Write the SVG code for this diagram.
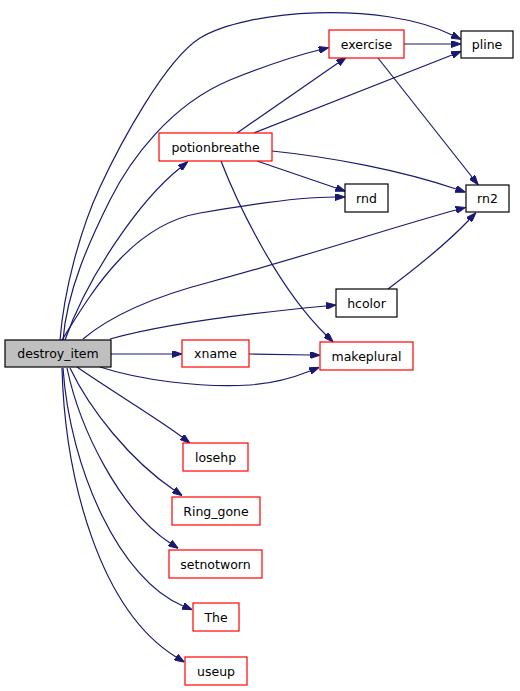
<svg xmlns="http://www.w3.org/2000/svg" width="520" height="691" viewBox="0 0 520 691">
<style>
.n rect{fill:#fff;stroke-width:1.2}
.r rect{stroke:#ff0000}
.k rect{stroke:#000}
.n text{font-family:"DejaVu Sans",sans-serif;font-size:12.5px;text-anchor:middle;fill:#000}
.e path{fill:none;stroke:#191970;stroke-width:1.2;marker-end:url(#a)}
</style>
<defs>
<marker id="a" viewBox="0 0 10 7" refX="0" refY="3.5" markerWidth="10" markerHeight="7" markerUnits="userSpaceOnUse" orient="auto">
<path d="M0,0 L10,3.5 L0,7 z" fill="#191970" stroke="#191970" stroke-width="1"/>
</marker>
</defs>
<rect width="520" height="691" fill="#fff"/>
<g class="e" id="edges">
<path d="M60,340 C64,290 80,230 100,187 C120,144 165,60 200,38 C245,10 380,0 452,35"/>
<path d="M63,340 C67,290 90,240 110,200 C130,160 170,105 230,80 C260,68 290,57 319,50"/>
<path d="M65,340 C88,275 140,200 180,168"/>
<path d="M62,340 C90,295 130,225 200,213 C240,206 300,197 335,197"/>
<path d="M83,339 C115,312 160,295 210,282 C300,258 400,225 456,210"/>
<path d="M110,339 C160,325 230,315 326,306"/>
<path d="M111,354 L172,354"/>
<path d="M100,367 C140,380 200,388 250,385 C280,383 300,375 310,371"/>
<path d="M77,367 C110,390 160,420 182,437"/>
<path d="M70,368 C90,410 130,460 174,490"/>
<path d="M67,368 C80,430 120,510 170,543"/>
<path d="M63,368 C70,470 120,580 183,606"/>
<path d="M62,368 C65,480 100,610 176,657"/>
<path d="M237,133 L338,63"/>
<path d="M254,133 L452,55"/>
<path d="M404,44 L451,44"/>
<path d="M378,58 L472,177"/>
<path d="M272,151 C330,157 400,170 456,189"/>
<path d="M257,161 L336,188"/>
<path d="M221,161 C240,210 280,290 326,335"/>
<path d="M388,289 C420,265 450,240 469,220"/>
<path d="M249,354 L310,355"/>
</g>
<g id="destroy_item" class="n k"><rect x="5" y="340" width="106" height="27" style="fill:#bfbfbf"/><text x="58" y="358">destroy_item</text></g>
<g id="exercise" class="n r"><rect x="329" y="30" width="75" height="28"/><text x="366.5" y="48.5">exercise</text></g>
<g id="pline" class="n k"><rect x="461" y="31" width="52" height="27"/><text x="487" y="49">pline</text></g>
<g id="potionbreathe" class="n r"><rect x="159" y="133" width="113" height="28"/><text x="215.5" y="151.5">potionbreathe</text></g>
<g id="rnd" class="n k"><rect x="345" y="184" width="43" height="28"/><text x="366.5" y="202.5">rnd</text></g>
<g id="rn2" class="n k"><rect x="466" y="185" width="43" height="27"/><text x="487.5" y="203">rn2</text></g>
<g id="hcolor" class="n k"><rect x="336" y="289" width="61" height="28"/><text x="366.5" y="307.5">hcolor</text></g>
<g id="xname" class="n r"><rect x="182" y="340" width="67" height="27"/><text x="215.5" y="358">xname</text></g>
<g id="makeplural" class="n r"><rect x="320" y="342" width="93" height="28"/><text x="366.5" y="360.5">makeplural</text></g>
<g id="losehp" class="n r"><rect x="183" y="443" width="65" height="28"/><text x="215.5" y="461.5">losehp</text></g>
<g id="Ring_gone" class="n r"><rect x="172" y="497" width="88" height="28"/><text x="216" y="515.5">Ring_gone</text></g>
<g id="setnotworn" class="n r"><rect x="169" y="550" width="93" height="28"/><text x="215.5" y="568.5">setnotworn</text></g>
<g id="The" class="n r"><rect x="193" y="603" width="46" height="28"/><text x="216" y="621.5">The</text></g>
<g id="useup" class="n r"><rect x="185" y="657" width="62" height="28"/><text x="216" y="675.5">useup</text></g>
</svg>
